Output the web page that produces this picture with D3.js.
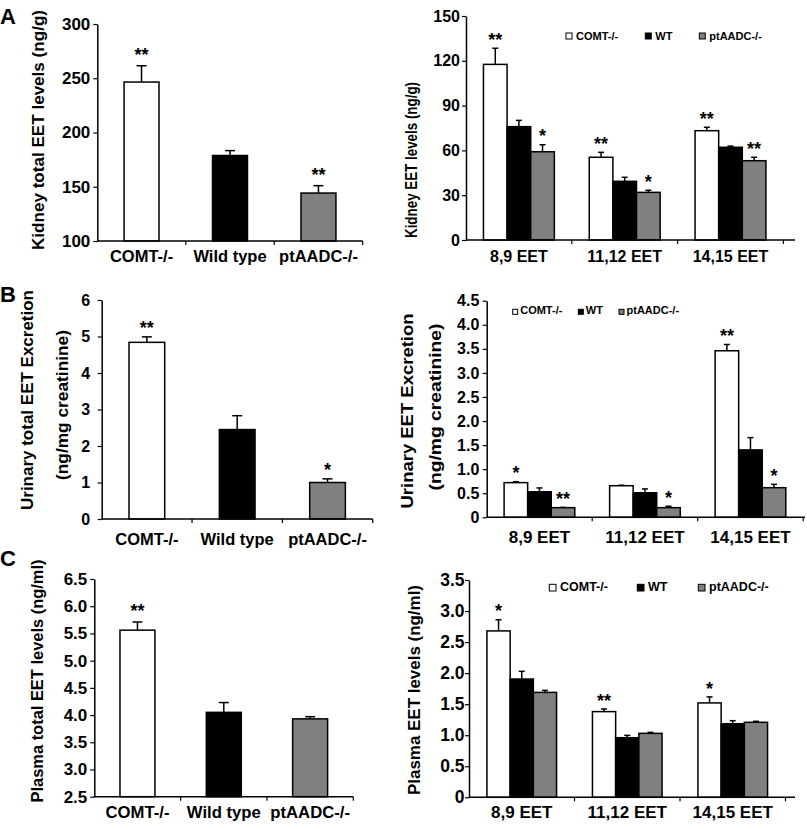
<!DOCTYPE html>
<html><head><meta charset="utf-8">
<script src="https://cdn.jsdelivr.net/npm/d3@7"></script>
<style>
body{margin:0;background:#fff}
svg{display:block;background:#fff}
text{font-family:"Liberation Sans",Arial,Helvetica,sans-serif;font-weight:bold;fill:#000}
</style>
</head><body>
<svg id="c" width="807" height="829"></svg>
<script>
// ---------- DATA ----------
const genotypes = ["COMT-/-", "Wild type", "ptAADC-/-"];
const legendNames = ["COMT-/-", "WT", "ptAADC-/-"];
const isomers = ["8,9 EET", "11,12 EET", "14,15 EET"];
const fills = ["#ffffff", "#000000", "#808080"];

// A: kidney
const kidneyTotal = [246.5, 178.8, 144.2];
const kidneyTotalErr = [15, 4.5, 6.8];
const kidneyTotalSig = ["**", "", "**"];
const kidneyTotalTicks = [100, 150, 200, 250, 300];
const kidneyCOMT = [117.6, 55.4, 73.2];
const kidneyWT = [75.9, 39.3, 62.1];
const kidneyPt = [59.1, 31.9, 53.1];
const kidneyCOMTErr = [10.8, 3.3, 2.3];
const kidneyWTErr = [4.2, 2.7, 0.8];
const kidneyPtErr = [4.7, 1.4, 2.3];
const kidneyCOMTSig = ["**", "**", "**"];
const kidneyWTSig = ["", "", ""];
const kidneyPtSig = ["*", "*", "**"];
const kidneyTicks = [0, 30, 60, 90, 120, 150];

// B: urinary
const urinaryTotal = [4.84, 2.45, 1.0];
const urinaryTotalErr = [0.15, 0.38, 0.1];
const urinaryTotalSig = ["**", "", "*"];
const urinaryTotalTicks = [0, 1, 2, 3, 4, 5, 6];
const urinaryCOMT = [0.72, 0.656, 3.46];
const urinaryWT = [0.53, 0.51, 1.4];
const urinaryPt = [0.2, 0.2, 0.615];
const urinaryCOMTErr = [0.02, 0.01, 0.13];
const urinaryWTErr = [0.08, 0.08, 0.255];
const urinaryPtErr = [0.005, 0.03, 0.07];
const urinaryCOMTSig = ["*", "", "**"];
const urinaryWTSig = ["", "", ""];
const urinaryPtSig = ["**", "*", "*"];
const urinaryTicks = [0, 0.5, 1, 1.5, 2, 2.5, 3, 3.5, 4, 4.5];

// C: plasma
const plasmaTotal = [5.56, 4.05, 3.93];
const plasmaTotalErr = [0.15, 0.18, 0.04];
const plasmaTotalSig = ["**", "", ""];
const plasmaTotalTicks = [2.5, 3, 3.5, 4, 4.5, 5, 5.5, 6, 6.5];
const plasmaCOMT = [2.68, 1.38, 1.52];
const plasmaWT = [1.905, 0.96, 1.185];
const plasmaPt = [1.69, 1.03, 1.208];
const plasmaCOMTErr = [0.18, 0.043, 0.097];
const plasmaWTErr = [0.124, 0.038, 0.049];
const plasmaPtErr = [0.032, 0.016, 0.016];
const plasmaCOMTSig = ["*", "**", "*"];
const plasmaWTSig = ["", "", ""];
const plasmaPtSig = ["", "", ""];
const plasmaTicks = [0, 0.5, 1, 1.5, 2, 2.5, 3, 3.5];

// ---------- DRAWING ----------
const svg = d3.select("#c");
const fmtInt = d => String(d);
const fmt1 = d => d === 0 ? "0" : d3.format(".1f")(d);
const STAR_FS = 18;

function drawPanel(p) {
  const g = svg.append("g");
  const y = d3.scaleLinear().domain(p.domain).range([p.yBottom, p.yTop]);
  const x = d3.scaleBand().domain(p.categories).range([p.xLeft, p.xRight]).padding(0);
  const bw = x.bandwidth();

  const bars = [];
  if (p.type === "simple") {
    const barW = bw * p.ratio;
    p.categories.forEach((c, i) => {
      bars.push({ x: x(c) + (bw - barW) / 2, w: barW, v: p.values[i], e: p.errors[i], s: p.sig[i], fill: fills[i] });
    });
  } else {
    const groupW = bw * p.ratio;
    const inner = d3.scaleBand().domain(d3.range(p.series.length)).range([(bw - groupW) / 2, (bw + groupW) / 2]).padding(0);
    p.categories.forEach((c, i) => {
      p.series.forEach((s, j) => {
        bars.push({ x: x(c) + inner(j), w: inner.bandwidth(), v: s.values[i], e: s.errors[i], s: s.sig[i], fill: s.fill });
      });
    });
  }
  const base = y(p.domain[0]);
  bars.forEach(b => {
    const cx = b.x + b.w / 2;
    const top = y(b.v + b.e);
    g.append("line").attr("x1", cx).attr("x2", cx).attr("y1", y(b.v)).attr("y2", top)
      .attr("stroke", "#000").attr("stroke-width", 1.5);
    g.append("line").attr("x1", cx - p.capW / 2).attr("x2", cx + p.capW / 2).attr("y1", top).attr("y2", top)
      .attr("stroke", "#000").attr("stroke-width", 1.5);
  });
  g.selectAll("rect.bar").data(bars).enter().append("rect").attr("class", "bar")
    .attr("x", d => d.x).attr("width", d => d.w)
    .attr("y", d => y(d.v)).attr("height", d => base - y(d.v))
    .attr("fill", d => d.fill).attr("stroke", "#000").attr("stroke-width", 1.5);
  g.selectAll("text.sig").data(bars.filter(b => b.s)).enter().append("text").attr("class", "sig")
    .attr("x", d => d.x + d.w / 2).attr("y", d => y(d.v + d.e) - p.starGap + 0.54 * STAR_FS)
    .attr("text-anchor", "middle").style("font-size", STAR_FS + "px").text(d => d.s);

  const ya = g.append("g").attr("transform", `translate(${p.xLeft},0)`)
    .call(d3.axisLeft(y).tickValues(p.ticks).tickFormat(p.fmt).tickSizeOuter(0).tickSizeInner(4).tickPadding(p.tickGap - 4));
  ya.select(".domain").attr("stroke-width", 1.5);
  ya.selectAll(".tick line").attr("stroke-width", 1.2);
  ya.selectAll("text").style("font-size", p.tickFs + "px").attr("font-family", null);

  const xa = g.append("g").attr("transform", `translate(0,${base})`)
    .call(d3.axisBottom(x).tickSize(0).tickSizeOuter(0));
  xa.select(".domain").remove();
  xa.selectAll("text").attr("y", p.catBase - base).attr("dy", 0).style("font-size", p.catFs + "px").attr("font-family", null);
  g.append("line").attr("x1", p.xLeft).attr("x2", p.axisEnd).attr("y1", base).attr("y2", base)
    .attr("stroke", "#000").attr("stroke-width", 1.5);
  p.categories.forEach(c => {
    const tx = x(c) + bw;
    g.append("line").attr("x1", tx).attr("x2", tx).attr("y1", base).attr("y2", base + 4)
      .attr("stroke", "#000").attr("stroke-width", 1.2);
  });

  p.titles.forEach(t => {
    g.append("text").attr("transform", `translate(${t.bx},${t.cy}) rotate(-90)`)
      .attr("text-anchor", "middle").style("font-size", t.fs + "px")
      .attr("textLength", t.len).attr("lengthAdjust", "spacingAndGlyphs").text(t.text);
  });

  if (p.legend) {
    const L = p.legend;
    p.series.forEach((s, j) => {
      g.append("rect").attr("x", L.xs[j]).attr("y", L.boxY).attr("width", L.box).attr("height", L.box)
        .attr("fill", s.fill).attr("stroke", "#000").attr("stroke-width", 1);
      g.append("text").attr("x", L.xs[j] + L.box + L.dx).attr("y", L.base)
        .style("font-size", L.fs + "px").text(s.name);
    });
  }

  if (p.letter) {
    g.append("text").attr("x", 0).attr("y", p.letter.y).style("font-size", "22px").text(p.letter.t);
  }
}

function series(vals, errs, sigs) {
  return vals.map((v, i) => ({ values: v, errors: errs[i], sig: sigs[i], fill: fills[i], name: legendNames[i] }));
}

const panels = [
  { type: "simple", categories: genotypes, values: kidneyTotal, errors: kidneyTotalErr, sig: kidneyTotalSig,
    domain: [100, 300], ticks: kidneyTotalTicks, fmt: fmtInt,
    xLeft: 97.3, xRight: 362.7, axisEnd: 362.7, yTop: 24, yBottom: 241, tickFs: 17, tickGap: 7,
    catFs: 16.5, catBase: 262, ratio: 0.395, capW: 10, starGap: 14,
    titles: [{ text: "Kidney total EET levels (ng/g)", fs: 17, len: 240, bx: 43.5, cy: 130 }],
    letter: { t: "A", y: 23.5 } },
  { type: "grouped", categories: isomers,
    series: series([kidneyCOMT, kidneyWT, kidneyPt], [kidneyCOMTErr, kidneyWTErr, kidneyPtErr], [kidneyCOMTSig, kidneyWTSig, kidneyPtSig]),
    domain: [0, 150], ticks: kidneyTicks, fmt: fmtInt,
    xLeft: 466, xRight: 783.4, axisEnd: 795, yTop: 16, yBottom: 240, tickFs: 16, tickGap: 6,
    catFs: 16, catBase: 262, ratio: 0.67, capW: 6, starGap: 12,
    titles: [{ text: "Kidney EET levels (ng/g)", fs: 17, len: 156, bx: 417, cy: 160 }],
    legend: { xs: [566, 645.3, 699.3], boxY: 33, box: 6, dx: 4, fs: 11, base: 39.5 } },
  { type: "simple", categories: genotypes, values: urinaryTotal, errors: urinaryTotalErr, sig: urinaryTotalSig,
    domain: [0, 6], ticks: urinaryTotalTicks, fmt: fmtInt,
    xLeft: 101.7, xRight: 372.7, axisEnd: 372.7, yTop: 300, yBottom: 519, tickFs: 16, tickGap: 11.5,
    catFs: 16.5, catBase: 545, ratio: 0.395, capW: 10, starGap: 13,
    titles: [{ text: "Urinary total EET Excretion", fs: 17, len: 220, bx: 33.3, cy: 400 },
             { text: "(ng/mg creatinine)", fs: 17, len: 150, bx: 68.3, cy: 405 }],
    letter: { t: "B", y: 302 } },
  { type: "grouped", categories: isomers,
    series: series([urinaryCOMT, urinaryWT, urinaryPt], [urinaryCOMTErr, urinaryWTErr, urinaryPtErr], [urinaryCOMTSig, urinaryWTSig, urinaryPtSig]),
    domain: [0, 4.5], ticks: urinaryTicks, fmt: fmt1,
    xLeft: 486.7, xRight: 803.2, axisEnd: 805, yTop: 300.7, yBottom: 517.3, tickFs: 16, tickGap: 7.4,
    catFs: 17, catBase: 543, ratio: 0.67, capW: 6, starGap: 12,
    titles: [{ text: "Urinary EET Excretion", fs: 17, len: 195, bx: 413.3, cy: 411 },
             { text: "(ng/mg creatinine)", fs: 17, len: 167, bx: 440.6, cy: 407 }],
    legend: { xs: [512.7, 578.3, 619], boxY: 309.3, box: 5, dx: 2.5, fs: 11, base: 314 } },
  { type: "simple", categories: genotypes, values: plasmaTotal, errors: plasmaTotalErr, sig: plasmaTotalSig,
    domain: [2.5, 6.5], ticks: plasmaTotalTicks, fmt: d => d3.format(".1f")(d),
    xLeft: 94.3, xRight: 353.3, axisEnd: 353.3, yTop: 579, yBottom: 796.7, tickFs: 17, tickGap: 7,
    catFs: 16.7, catBase: 818, ratio: 0.405, capW: 10, starGap: 15,
    titles: [{ text: "Plasma total EET levels (ng/ml)", fs: 17, len: 243, bx: 43.3, cy: 681 }],
    letter: { t: "C", y: 566 } },
  { type: "grouped", categories: isomers,
    series: series([plasmaCOMT, plasmaWT, plasmaPt], [plasmaCOMTErr, plasmaWTErr, plasmaPtErr], [plasmaCOMTSig, plasmaWTSig, plasmaPtSig]),
    domain: [0, 3.5], ticks: plasmaTicks, fmt: fmt1,
    xLeft: 469, xRight: 785.5, axisEnd: 795, yTop: 580, yBottom: 797.3, tickFs: 17.5, tickGap: 4.5,
    catFs: 17, catBase: 818, ratio: 0.66, capW: 6, starGap: 12,
    titles: [{ text: "Plasma EET levels (ng/ml)", fs: 17, len: 210, bx: 420, cy: 690 }],
    legend: { xs: [549.3, 637.3, 698.3], boxY: 584.3, box: 6.7, dx: 4, fs: 12.5, base: 591 } }
];

panels.forEach(drawPanel);
</script>
</body></html>
